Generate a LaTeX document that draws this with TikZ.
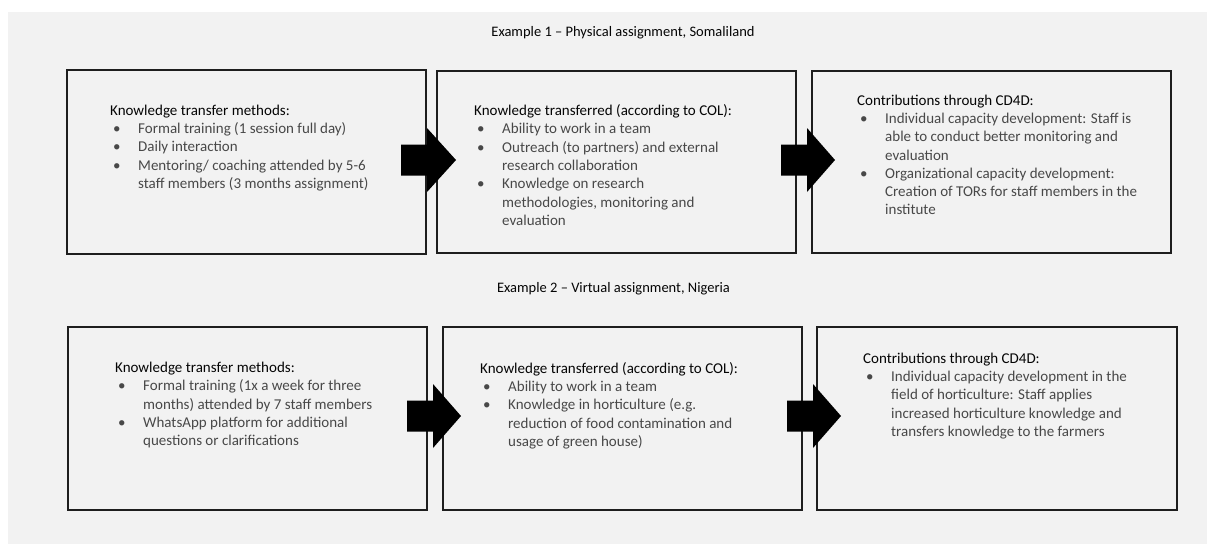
\documentclass[tikz,border=0pt]{standalone}
\usepackage{fontspec}
\setmainfont{Carlito}
\usetikzlibrary{calc}
\definecolor{bggray}{RGB}{242,242,242}
\definecolor{edge}{RGB}{30,30,30}
\definecolor{bodytxt}{RGB}{72,72,72}
\definecolor{headtxt}{RGB}{5,5,5}
\newcommand\hd[1]{{\color{headtxt}#1}}
\newcommand\bl[1]{\hspace*{3pt}\makebox[25pt][l]{\textbullet}#1}
\newcommand\cn[1]{\hspace*{28pt}#1}
\newcommand\barrow[4]{\fill[black] (#1,#4-15.5) -- (#2,#4-15.5) -- (#2,#4-32) -- (#3,#4) -- (#2,#4+32) -- (#2,#4+15.5) -- (#1,#4+15.5) -- cycle;}
\tikzset{
  box/.style={draw=edge, line width=1.8pt, fill=bggray, rectangle, inner sep=0pt},
  txt/.style={anchor=north west, align=left, inner sep=0pt, text=bodytxt,
     font=\fontsize{15}{18.3}\selectfont},
  ttl/.style={inner sep=0pt, text=headtxt, font=\fontsize{14.5}{17}\selectfont}
}
\begin{document}
\begin{tikzpicture}[x=1pt,y=-1pt]
\useasboundingbox (0,0) rectangle (1207,544);
\fill[white] (0,0) rectangle (1207,544);
\fill[bggray] (8,12) rectangle (1207,544);

\node[ttl] (t1) at (623,33) {Example 1 -- Physical assignment, Somaliland};
\node[ttl] (t2) at (613.5,289) {Example 2 -- Virtual assignment, Nigeria};

\node[box, minimum width=359, minimum height=184] (b1) at (246.5,162) {};
\node[box, minimum width=359, minimum height=182] (b2) at (616.5,162) {};
\node[box, minimum width=359, minimum height=182] (b3) at (991.5,162) {};
\node[box, minimum width=359, minimum height=183] (b4) at (247.5,418.5) {};
\node[box, minimum width=359, minimum height=183] (b5) at (622.5,418.5) {};
\node[box, minimum width=360, minimum height=183] (b6) at (997,418.5) {};

\barrow{401}{427}{456}{160}
\barrow{781}{807}{835}{160}
\barrow{407}{433}{461}{416}
\barrow{787}{813}{841}{416}

\node[txt] (x1) at (110,104.5) {\hd{Knowledge transfer methods:}\\
\bl{Formal training (1 session full day)}\\
\bl{Daily interaction}\\
\bl{Mentoring/ coaching attended by 5-6}\\
\cn{staff members (3 months assignment)}};

\node[txt] (x2) at (474,104.5) {\hd{Knowledge transferred (according to COL):}\\
\bl{Ability to work in a team}\\
\bl{Outreach (to partners) and external}\\
\cn{research collaboration}\\
\bl{Knowledge on research}\\
\cn{methodologies, monitoring and}\\
\cn{evaluation}};

\node[txt] (x3) at (857,94.5) {\hd{Contributions through CD4D:}\\
\bl{Individual capacity development: Staff is}\\
\cn{able to conduct better monitoring and}\\
\cn{evaluation}\\
\bl{Organizational capacity development:}\\
\cn{Creation of TORs for staff members in the}\\
\cn{institute}};

\node[txt] (x4) at (115,362) {\hd{Knowledge transfer methods:}\\
\bl{Formal training (1x a week for three}\\
\cn{months) attended by 7 staff members}\\
\bl{WhatsApp platform for additional}\\
\cn{questions or clarifications}};

\node[txt] (x5) at (480,362) {\hd{Knowledge transferred (according to COL):}\\
\bl{Ability to work in a team}\\
\bl{Knowledge in horticulture (e.g.}\\
\cn{reduction of food contamination and}\\
\cn{usage of green house)}};

\node[txt] (x6) at (863,352.5) {\hd{Contributions through CD4D:}\\
\bl{Individual capacity development in the}\\
\cn{field of horticulture: Staff applies}\\
\cn{increased horticulture knowledge and}\\
\cn{transfers knowledge to the farmers}};
\end{tikzpicture}
\end{document}
